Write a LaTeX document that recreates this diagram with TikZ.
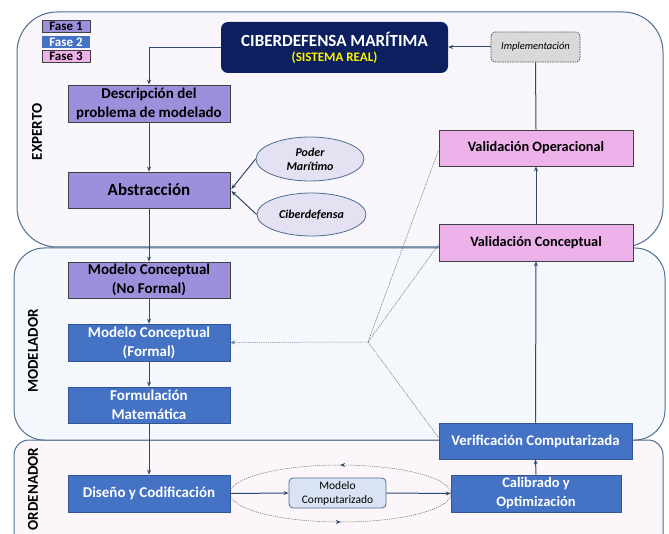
\documentclass[tikz,border=0pt]{standalone}
\usepackage{fontspec}
\setmainfont{Carlito}
\usetikzlibrary{arrows.meta,decorations.markings,shapes.geometric,calc}
\definecolor{purp}{HTML}{9D8FDB}
\definecolor{bblue}{HTML}{4472C4}
\definecolor{pinkb}{HTML}{EDB2EA}
\definecolor{navyb}{HTML}{0C1F5E}
\definecolor{panelline}{HTML}{4F6E91}
\definecolor{conn}{HTML}{2F4A6D}
\definecolor{expfill}{HTML}{F8F6FA}
\definecolor{modfill}{HTML}{F4F7FB}
\definecolor{ordfill}{HTML}{FCF6FA}
\definecolor{ellfill}{HTML}{E4E1F2}
\definecolor{mcfill}{HTML}{DAE3F3}
\definecolor{implfill}{HTML}{D9D9D9}
\tikzset{
  boxtxt/.style={font=\fontsize{15}{19}\selectfont\bfseries, align=center, inner sep=0pt},
  ph1box/.style={boxtxt, fill=purp, draw=black!75, line width=0.8pt, text=black},
  ph2box/.style={boxtxt, fill=bblue, draw=bblue!75!black, line width=0.6pt, text=white},
  ph3box/.style={boxtxt, fill=pinkb, draw=black!75, line width=0.8pt, text=black},
  panel/.style={draw=panelline, line width=1pt},
  sidelbl/.style={rotate=90, font=\fontsize{15}{17}\selectfont\bfseries},
  conc/.style={ellipse, fill=ellfill, draw=panelline, line width=0.8pt, font=\fontsize{12}{14}\selectfont\bfseries\itshape, align=center, inner sep=0pt},
  arr/.style={draw=conn, line width=1pt, -{Stealth[length=5pt,width=4pt]}},
  ln/.style={draw=conn, line width=1pt},
  dotl/.style={draw=black!60, line width=0.5pt, dash pattern=on 1.2pt off 1pt},
  legend/.style={font=\fontsize{13}{14}\selectfont\bfseries, minimum width=48pt, minimum height=12pt, inner sep=0pt}
}
\begin{document}
\begin{tikzpicture}[x=1pt,y=-1pt]
\useasboundingbox (0,0) rectangle (669,534);
\clip (0,0) rectangle (669,534);
\fill[white] (0,0) rectangle (669,534);
% panels
\draw[panel, fill=ordfill, rounded corners=15pt] (14,440) rectangle (663,560);
\draw[panel, fill=modfill, rounded corners=30pt] (14,248) rectangle (665,440);
\draw[panel, fill=expfill, rounded corners=40pt] (17,12) rectangle (663,247);
\node[sidelbl] (lexp) at (37,132) {EXPERTO};
\node[sidelbl] (lmod) at (33,351) {MODELADOR};
\node[sidelbl] (lord) at (33,489) {ORDENADOR};
% legend
\node[legend, fill=purp, draw=black!75, line width=0.7pt] (f1) at (66,26.5) {Fase 1};
\node[legend, fill=bblue, text=white] (f2) at (66,42) {Fase 2};
\node[legend, fill=pinkb, draw=black!75, line width=0.7pt] (f3) at (66,56.5) {Fase 3};
% top box
\node[fill=navyb, rounded corners=7pt, minimum width=227pt, minimum height=51pt, align=center, inner sep=0pt] (cib) at (334.5,47.5)
  {\fontsize{17}{20}\selectfont\bfseries\color{white}CIBERDEFENSA MARÍTIMA\\[3pt]
   \fontsize{13}{15}\selectfont\bfseries\color{yellow}(SISTEMA REAL)};
\node[fill=implfill, draw=black!70, dash pattern=on 1.5pt off 1pt, line width=0.7pt, rounded corners=4pt, minimum width=89pt, minimum height=30pt, font=\fontsize{10.5}{12}\selectfont\itshape, inner sep=0pt] (impl) at (535.5,47) {Implementación};
% left column
\node[ph1box, minimum width=162pt, minimum height=37pt] (desc) at (149,103.5) {Descripción del\\problema de modelado};
\node[ph1box, minimum width=162pt, minimum height=36pt, font=\fontsize{17}{19}\selectfont\bfseries] (abs) at (149,190) {Abstracción};
\node[ph1box, minimum width=162pt, minimum height=36pt] (mcnf) at (149,280) {Modelo Conceptual\\(No Formal)};
\node[ph2box, minimum width=162pt, minimum height=37pt] (mcf) at (149,342.5) {Modelo Conceptual\\(Formal)};
\node[ph2box, minimum width=162pt, minimum height=36pt] (fm) at (149,405) {Formulación\\Matemática};
\node[ph2box, minimum width=162pt, minimum height=37pt] (dc) at (149,493.5) {Diseño y Codificación};
% ellipses
\node[conc, minimum width=108pt, minimum height=44pt] (pm) at (310,159) {Poder\\Marítimo};
\node[conc, minimum width=109pt, minimum height=43pt] (cd) at (311.5,214.5) {Ciberdefensa};
% right column
\node[ph3box, minimum width=194pt, minimum height=36pt, font=\fontsize{14.3}{18}\selectfont\bfseries] (vo) at (536,148) {Validación Operacional};
\node[ph3box, minimum width=194pt, minimum height=37pt, font=\fontsize{14.3}{18}\selectfont\bfseries] (vc) at (536,242.5) {Validación Conceptual};
\node[ph2box, minimum width=193pt, minimum height=36pt, font=\fontsize{14.8}{18}\selectfont\bfseries] (vcomp) at (535.5,441) {Verificación Computarizada};
\node[ph2box, minimum width=170pt, minimum height=37pt, font=\fontsize{14.5}{19}\selectfont\bfseries] (co) at (536,493.5) {Calibrado y\\Optimización};
\node[fill=mcfill, draw=panelline, line width=0.8pt, rounded corners=4pt, minimum width=97pt, minimum height=30pt, align=center, font=\fontsize{11.5}{14}\selectfont, inner sep=0pt] (mcomp) at (337.5,493) {Modelo\\Computarizado};
% connectors
\draw[arr] (cib.west) -| (desc.north);
\draw[arr] (impl.west) -- (impl.west -| cib.east);
\draw[ln] (vo.north) -- (impl.south);
\draw[arr] (desc.south) -- (abs.north);
\draw[arr] (abs.south) -- (mcnf.north);
\draw[arr] (mcnf.south) -- (mcf.north);
\draw[arr] (mcf.south) -- (fm.north);
\draw[arr] (fm.south) -- (dc.north);
\draw[arr] (pm.west) -- ($(abs.east)+(1,-1)$);
\draw[arr] (cd.west) -- ($(abs.east)+(1,1)$);
\draw[arr] (vc.north) -- (vo.south);
\draw[arr] (vcomp.north) -- (vc.south);
\draw[arr] (co.north) -- (vcomp.south);
\draw[arr] (dc.east) -- (mcomp.west);
\draw[arr] (mcomp.east) -- (co.west);
% dashed loop
\draw[dotl, postaction={decorate}, decoration={markings, mark=at position 0.5 with {\arrow[conn]{Stealth[length=5pt,width=4pt]}}}]
  (co.west) arc[start angle=0, end angle=180, x radius=110.5pt, y radius=28.5pt];
\draw[dotl, postaction={decorate}, decoration={markings, mark=at position 0.5 with {\arrow[conn]{Stealth[length=5pt,width=4pt]}}}]
  (dc.east) arc[start angle=180, end angle=360, x radius=110.5pt, y radius=28.5pt];
% dotted junction
\coordinate (jn) at (368,342);
\draw[dotl] (jn) -- ($(vo.west)+(0,2)$);
\draw[dotl] (jn) -- ($(vc.west)+(0,2)$);
\draw[dotl] (jn) -- ($(vcomp.west)+(0,-3)$);
\draw[dotl, -{Stealth[length=5pt,width=4pt]}, draw=conn!70] (jn) -- (mcf.east);
\end{tikzpicture}
\end{document}
